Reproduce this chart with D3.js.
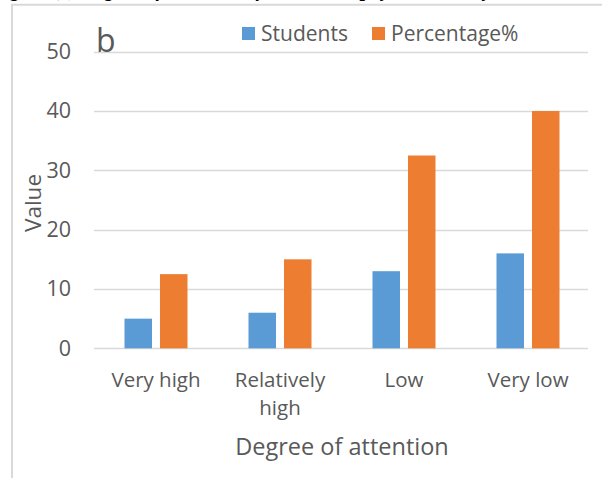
<!DOCTYPE html>
<html>
<head>
<meta charset="utf-8">
<script src="https://cdn.jsdelivr.net/npm/d3@7"></script>
<style>
  html, body { margin: 0; padding: 0; background: #fff; }
  svg { display: block; }
  text { font-family: "Open Sans", "Noto Sans", sans-serif; fill: #595959; }
</style>
</head>
<body>
<svg id="chart" width="602" height="478"></svg>
<script>
// Attention levels and the two measured series
const categories = ["Very high", "Relatively high", "Low", "Very low"];
const categoryLines = [["Very high"], ["Relatively", "high"], ["Low"], ["Very low"]];
const seriesNames = ["Students", "Percentage%"];
const students = [5, 6, 13, 16];
const percentage = [12.5, 15, 32.5, 40];
const yTicks = [0, 10, 20, 30, 40, 50];
const colors = ["#5B9BD5", "#ED7D31"];

const svg = d3.select("#chart");
const W = 602, H = 478;

svg.append("rect").attr("width", W).attr("height", H).attr("fill", "#fff");

// caption of the figure, running above the chart frame (only its descenders fall on the page)
svg.append("text")
  .attr("x", -8).attr("y", -4)
  .style("font-family", "'Liberation Serif', serif")
  .style("font-weight", "bold").style("font-style", "italic")
  .style("font-size", "20px").style("fill", "#000")
  .text("Figure (4) Degree of attention of students to physical activity");

// chart frame
svg.append("path")
  .attr("d", `M12,${H + 2} V4.75 H${W + 2}`)
  .attr("fill", "none").attr("stroke", "#d9d9d9").attr("stroke-width", 2);

const plot = { left: 94, right: 590, top: 51.7, bottom: 348.3 };

const y = d3.scaleLinear().domain([0, 50]).range([plot.bottom, plot.top]);
const x0 = d3.scaleBand().domain(categories).range([plot.left, plot.right]).padding(0);
const groupW = 63;
const x1 = d3.scaleBand().domain(seriesNames).range([0, groupW]).paddingInner(0.225);

// horizontal gridlines
svg.append("g").selectAll("line").data(yTicks).join("line")
  .attr("x1", plot.left).attr("x2", plot.right - 2)
  .attr("y1", d => Math.round(y(d)) + 0.5).attr("y2", d => Math.round(y(d)) + 0.5)
  .attr("stroke", "#d9d9d9").attr("stroke-width", 1.5);

// y axis labels
const yAxis = d3.axisLeft(y).tickValues(yTicks).tickSize(0).tickPadding(0);
const gy = svg.append("g").attr("transform", "translate(71,0)").call(yAxis);
gy.select(".domain").remove();
gy.selectAll("text").style("font-size", "21.5px").style("fill", "#595959")
  .style("font-family", "'Open Sans', sans-serif");

// bars
const rows = categories.map((c, i) => ({ cat: c, vals: [students[i], percentage[i]] }));
const groups = svg.append("g").selectAll("g").data(rows).join("g")
  .attr("transform", d => `translate(${x0(d.cat) + (x0.bandwidth() - groupW) / 2},0)`);
groups.selectAll("rect").data(d => d.vals.map((v, k) => ({ name: seriesNames[k], v, k })))
  .join("rect")
  .attr("x", d => x1(d.name))
  .attr("width", x1.bandwidth())
  .attr("y", d => y(d.v))
  .attr("height", d => y(0) - y(d.v))
  .attr("fill", d => colors[d.k]);

// category labels
const xl = svg.append("g").selectAll("text").data(categories).join("text")
  .attr("text-anchor", "middle")
  .attr("x", d => x0(d) + x0.bandwidth() / 2)
  .attr("y", 387)
  .style("font-size", "20.5px");
xl.each(function (d, i) {
  const t = d3.select(this);
  categoryLines[i].forEach((line, j) => {
    t.append("tspan").attr("x", x0(d) + x0.bandwidth() / 2)
      .attr("dy", j === 0 ? 0 : 28).text(line);
  });
});

// axis titles
svg.append("text")
  .attr("x", (plot.left + plot.right) / 2).attr("y", 455)
  .attr("text-anchor", "middle").style("font-size", "23.5px")
  .text("Degree of attention");

svg.append("text")
  .attr("transform", "translate(41,203) rotate(-90)")
  .attr("text-anchor", "middle").style("font-size", "22.5px")
  .text("Value");

// panel letter
svg.append("text")
  .attr("x", 96).attr("y", 52)
  .style("font-size", "32px")
  .text("b");

// legend
const legend = svg.append("g").attr("transform", "translate(242,27)");
const legendX = [0, 130];
seriesNames.forEach((n, k) => {
  const g = legend.append("g").attr("transform", `translate(${legendX[k]},0)`);
  g.append("rect").attr("width", 13).attr("height", 13).attr("fill", colors[k]);
  g.append("text").attr("x", 19).attr("y", 13.5).style("font-size", "21px").text(n);
});
</script>
</body>
</html>
